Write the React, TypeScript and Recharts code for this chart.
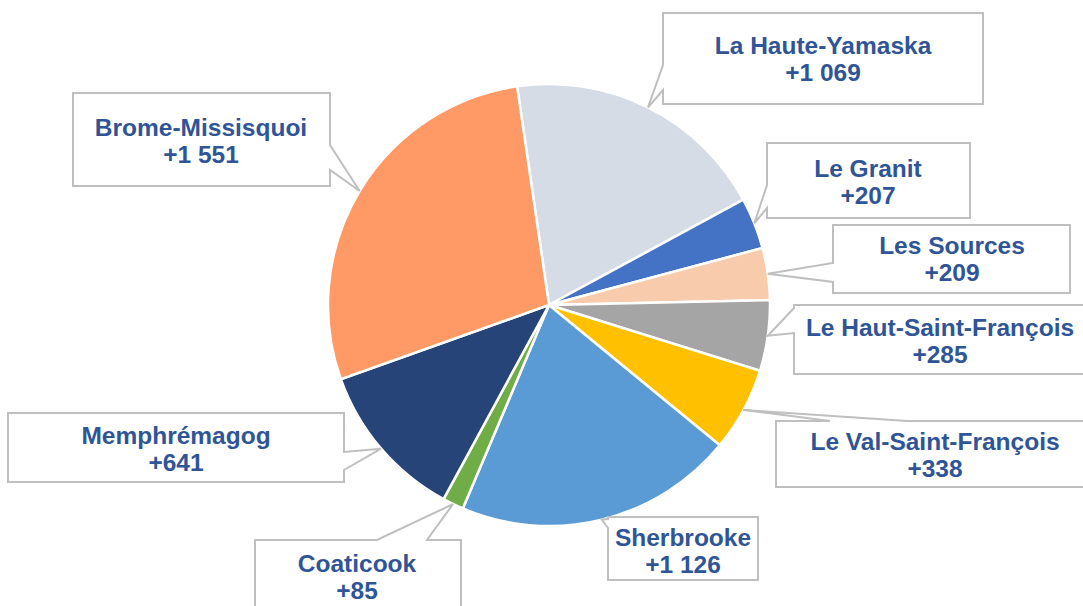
import React from 'react';
import { PieChart, Pie, Cell } from 'recharts';

// Variation par MRC (ordre horaire depuis le haut)
const regions = [
  'La Haute-Yamaska',
  'Le Granit',
  'Les Sources',
  'Le Haut-Saint-François',
  'Le Val-Saint-François',
  'Sherbrooke',
  'Coaticook',
  'Memphrémagog',
  'Brome-Missisquoi',
];
const values = [1069, 207, 209, 285, 338, 1126, 85, 641, 1551];
const colors = ['#D6DCE5', '#4472C4', '#F8CBAD', '#A5A5A5', '#FFC000', '#5B9BD5', '#70AD47', '#264478', '#FF9966'];

const data = regions.map((name, i) => ({ name, value: values[i] }));

// callout boxes: box rect, which side the pointer leaves from, pointer base (a..b), text center
const callouts = [
  { x: 663, y: 13, w: 320, h: 91, side: 'left', a: 65, b: 90, tx: 823, ty: 45 },
  { x: 767, y: 143, w: 203, h: 75, side: 'left', a: 185, b: 208, tx: 868, ty: 168 },
  { x: 833, y: 225, w: 237, h: 68, side: 'left', a: 263, b: 282, tx: 952, ty: 245 },
  { x: 794, y: 305, w: 300, h: 69, side: 'left', a: 308, b: 333, tx: 940, ty: 327 },
  { x: 776, y: 421, w: 320, h: 66, side: 'top', a: 830, b: 907, tx: 935, ty: 441 },
  { x: 608, y: 517, w: 150, h: 63, side: 'left', a: 519, b: 528, tx: 683, ty: 537 },
  { x: 255, y: 540, w: 206, h: 80, side: 'top', a: 377, b: 427, tx: 357, ty: 563 },
  { x: 8, y: 413, w: 336, h: 69, side: 'right', a: 452, b: 470, tx: 176, ty: 435 },
  { x: 73, y: 93, w: 257, h: 93, side: 'right', a: 145, b: 170, tx: 201, ty: 127 },
];

const RAD = Math.PI / 180;
const fmt = (v: number) => '+' + String(v).replace(/\B(?=(\d{3})+(?!\d))/g, ' ');

const calloutPath = (c: any, px: number, py: number) => {
  const { x, y, w, h, side, a, b } = c;
  let pts: number[][];
  if (side === 'left') {
    pts = [[x, y], [x + w, y], [x + w, y + h], [x, y + h], [x, b], [px, py], [x, a]];
  } else if (side === 'right') {
    pts = [[x, y], [x + w, y], [x + w, a], [px, py], [x + w, b], [x + w, y + h], [x, y + h]];
  } else {
    pts = [[x, y], [a, y], [px, py], [b, y], [x + w, y], [x + w, y + h], [x, y + h]];
  }
  return 'M' + pts.map((p) => p.join(',')).join('L') + 'Z';
};

const textStyle = {
  fill: '#2F5597',
  fontSize: 24.5,
  fontWeight: 'bold' as const,
  fontFamily: "'Liberation Sans', Arial, sans-serif",
};

const renderLabel = (props: any) => {
  const { cx, cy, midAngle, outerRadius, index, value, name } = props;
  const c = callouts[index];
  const px = cx + outerRadius * Math.cos(-midAngle * RAD);
  const py = cy + outerRadius * Math.sin(-midAngle * RAD);
  return (
    <g key={`callout-${index}`}>
      <path d={calloutPath(c, px, py)} fill="#FFFFFF" stroke="#BFBFBF" strokeWidth={2} />
      <text x={c.tx} y={c.ty} textAnchor="middle" dominantBaseline="central" style={textStyle}>
        {name}
      </text>
      <text x={c.tx} y={c.ty + 27} textAnchor="middle" dominantBaseline="central" style={textStyle}>
        {fmt(value)}
      </text>
    </g>
  );
};

export default function App() {
  return (
    <div style={{ position: 'absolute', left: 0, top: 0, width: 1083, height: 606, background: '#fff' }}>
      <PieChart width={1083} height={606} margin={{ top: 0, right: 0, bottom: 0, left: 0 }}>
        <Pie
          data={data}
          dataKey="value"
          nameKey="name"
          cx={549}
          cy={305}
          outerRadius={221}
          startAngle={98.3}
          endAngle={-261.7}
          stroke="#FFFFFF"
          strokeWidth={2.5}
          label={renderLabel}
          labelLine={false}
          isAnimationActive={false}
        >
          {data.map((d, i) => (
            <Cell key={d.name} fill={colors[i]} />
          ))}
        </Pie>
      </PieChart>
    </div>
  );
}
